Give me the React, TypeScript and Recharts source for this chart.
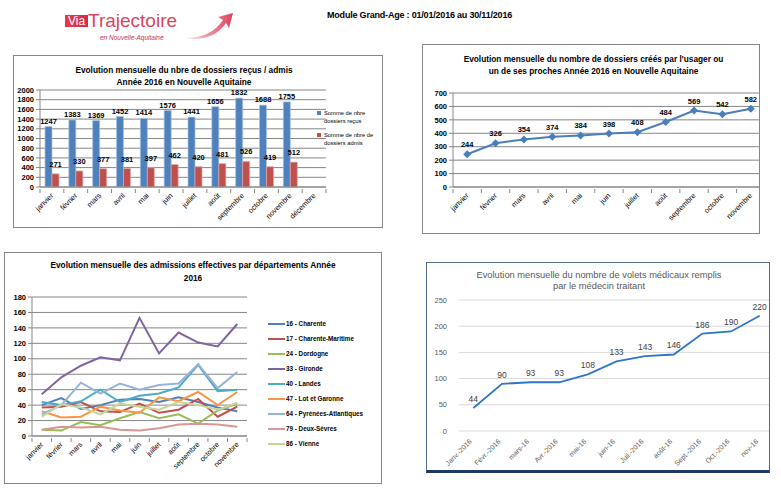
import React from "react";
import {
  BarChart,
  Bar,
  LineChart,
  Line,
  XAxis,
  YAxis,
  CartesianGrid,
  LabelList,
} from "recharts";

const FONT = "'Liberation Sans', Arial, sans-serif";

// --- données ---
const MOIS = [
  "janvier", "février", "mars", "avril", "mai", "juin",
  "juillet", "août", "septembre", "octobre", "novembre", "décembre",
];
const DOSSIERS_RECUS = [1247, 1383, 1369, 1452, 1414, 1576, 1441, 1656, 1832, 1688, 1755];
const DOSSIERS_ADMIS = [271, 330, 377, 381, 397, 462, 420, 481, 526, 419, 512];
const TICKS_RECUS = [0, 200, 400, 600, 800, 1000, 1200, 1400, 1600, 1800, 2000];

const DOSSIERS_USAGER = [244, 326, 354, 374, 384, 398, 408, 484, 569, 542, 582];
const TICKS_USAGER = [0, 100, 200, 300, 400, 500, 600, 700];

const DEPARTEMENTS = [
  "16 - Charente",
  "17 - Charente-Maritime",
  "24 - Dordogne",
  "33 - Gironde",
  "40 - Landes",
  "47 - Lot et Garonne",
  "64 - Pyrénées-Atlantiques",
  "79 - Deux-Sèvres",
  "86 - Vienne",
];
const COULEURS_DEPT = [
  "#4F81BD", "#C0504D", "#9BBB59", "#8064A2", "#4BACC6",
  "#F79646", "#95B3D7", "#D99694", "#C3D69B",
];
const ADM_16 = [40, 49, 35, 40, 47, 48, 44, 50, 44, 37, 32];
const ADM_17 = [37, 38, 44, 32, 31, 42, 30, 34, 48, 25, 38];
const ADM_24 = [8, 7, 18, 14, 23, 31, 23, 28, 16, 33, 42];
const ADM_33 = [54, 76, 91, 102, 98, 153, 107, 134, 121, 116, 145];
const ADM_40 = [44, 40, 45, 60, 44, 52, 55, 63, 92, 58, 60];
const ADM_47 = [32, 24, 25, 38, 33, 30, 50, 45, 57, 40, 57];
const ADM_64 = [28, 40, 69, 55, 68, 60, 66, 68, 93, 62, 83];
const ADM_79 = [8, 12, 11, 12, 8, 7, 10, 15, 16, 15, 12];
const ADM_86 = [25, 41, 37, 28, 42, 38, 34, 44, 40, 34, 43];
const SERIES_DEPT = [ADM_16, ADM_17, ADM_24, ADM_33, ADM_40, ADM_47, ADM_64, ADM_79, ADM_86];
const TICKS_DEPT = [0, 20, 40, 60, 80, 100, 120, 140, 160, 180];

const MOIS_VOLETS = [
  "Janv.-2016", "Févr.-2016", "mars-16", "Avr.-2016", "mai-16", "juin-16",
  "Juil.-2016", "août-16", "Sept.-2016", "Oct.-2016", "nov-16",
];
const VOLETS = [44, 90, 93, 93, 108, 133, 143, 146, 186, 190, 220];
const TICKS_VOLETS = [0, 50, 100, 150, 200, 250];

// tables pour recharts
const recusData = MOIS.map((m, i) => ({
  mois: m,
  recus: DOSSIERS_RECUS[i] ?? null,
  admis: DOSSIERS_ADMIS[i] ?? null,
}));
const usagerData = DOSSIERS_USAGER.map((v, i) => ({ mois: MOIS[i], v }));
const deptData = MOIS.slice(0, 11).map((m, i) => {
  const row: Record<string, any> = { mois: m };
  SERIES_DEPT.forEach((s, k) => (row["d" + k] = s[i]));
  return row;
});
const voletsData = MOIS_VOLETS.map((m, i) => ({ mois: m, v: VOLETS[i] }));

// largeur d'une catégorie (zone de tracé / nb de mois)
const STEP_RECUS = 286 / 12;
const STEP_USAGER = 312.7 / 11;
const STEP_DEPT = 214.5 / 11;
const STEP_VOLETS = 315.7 / 11;

// tick de catégorie incliné, avec graduations entre les catégories (style Excel)
function RotTick(props: any) {
  const { x, y, payload, index, visibleTicksCount, step, marks = true, fontSize, fill, dx = 2, dy = 7 } = props;
  const tx = x + dx;
  const ty = y + dy;
  return (
    <g>
      {marks ? (
        <line x1={x - step / 2} x2={x - step / 2} y1={y} y2={y + 4} stroke="#868686" />
      ) : null}
      {marks && index === visibleTicksCount - 1 ? (
        <line x1={x + step / 2} x2={x + step / 2} y1={y} y2={y + 4} stroke="#868686" />
      ) : null}
      <text
        x={tx}
        y={ty}
        transform={`rotate(-45 ${tx} ${ty})`}
        textAnchor="end"
        fontSize={fontSize}
        fill={fill}
        fontFamily={FONT}
      >
        {payload.value}
      </text>
    </g>
  );
}

function Diamond(props: any) {
  const { cx, cy } = props;
  if (cx == null || cy == null) return null;
  const r = 4;
  return (
    <polygon
      points={`${cx},${cy - r} ${cx + r},${cy} ${cx},${cy + r} ${cx - r},${cy}`}
      fill="#4A7EBB"
    />
  );
}

const boldTick = { fontSize: 7.5, fontWeight: "bold", fill: "#000", fontFamily: FONT };

function Titre({ lines, top, width, style }: any) {
  return (
    <div
      style={{
        position: "absolute",
        left: 0,
        top,
        width,
        textAlign: "center",
        fontSize: 8.3,
        fontWeight: "bold",
        lineHeight: "11.5px",
        ...style,
      }}
    >
      {lines.map((l: string) => (
        <div key={l}>{l}</div>
      ))}
    </div>
  );
}

function ChartRecus() {
  return (
    <div
      style={{
        position: "absolute",
        left: 13,
        top: 55,
        width: 370,
        height: 173,
        border: "1px solid #868686",
        boxSizing: "border-box",
      }}
    >
      <Titre
        lines={["Evolution mensuelle du nbre de dossiers reçus / admis", "Année 2016 en Nouvelle Aquitaine"]}
        top={9}
        width={340}
      />
      <BarChart
        width={368}
        height={171}
        data={recusData}
        margin={{ top: 34, right: 56, bottom: 0, left: 0 }}
        barGap={0}
        barSize={7}
      >
        <CartesianGrid vertical={false} stroke="#868686" />
        <XAxis
          dataKey="mois"
          height={40}
          interval={0}
          tickLine={false}
          tickSize={0}
          axisLine={{ stroke: "#868686" }}
          tick={(p: any) => <RotTick {...p} step={STEP_RECUS} fontSize={7.4} fill="#000" />}
        />
        <YAxis
          width={26}
          domain={[0, 2000]}
          ticks={TICKS_RECUS}
          interval={0}
          tick={boldTick}
          tickSize={4}
          tickMargin={2}
          axisLine={{ stroke: "#868686" }}
          tickLine={{ stroke: "#868686" }}
        />
        <Bar dataKey="recus" fill="#4F81BD" stroke="#A9C2E2" strokeWidth={0.7} isAnimationActive={false}>
          <LabelList dataKey="recus" position="top" offset={3} fontSize={7.5} fontWeight="bold" fill="#000" fontFamily={FONT} />
        </Bar>
        <Bar dataKey="admis" fill="#C0504D" stroke="#E0A8A6" strokeWidth={0.7} isAnimationActive={false}>
          <LabelList dataKey="admis" position="top" offset={7} fontSize={7.5} fontWeight="bold" fill="#000" fontFamily={FONT} />
        </Bar>
      </BarChart>
      <div style={{ position: "absolute", left: 303, top: 54, fontSize: 5.8, lineHeight: "7.5px", color: "#000" }}>
        {[
          { c: "#4F81BD", t: ["Somme de nbre", "dossiers reçus"] },
          { c: "#C0504D", t: ["Somme de nbre de", "dossiers admis"] },
        ].map((e, i) => (
          <div key={i} style={{ position: "relative", paddingLeft: 7, marginBottom: 7 }}>
            <span style={{ position: "absolute", left: 0, top: 1, width: 4, height: 4, background: e.c }} />
            <div>{e.t[0]}</div>
            <div>{e.t[1]}</div>
          </div>
        ))}
      </div>
    </div>
  );
}

function ChartUsager() {
  return (
    <div
      style={{
        position: "absolute",
        left: 422,
        top: 44,
        width: 338,
        height: 190,
        border: "1px solid #868686",
        boxSizing: "border-box",
        overflow: "hidden",
      }}
    >
      <Titre
        lines={[
          "Evolution mensuelle du nombre de dossiers créés par l'usager ou",
          "un de ses proches Année 2016 en Nouvelle Aquitaine",
        ]}
        top={9}
        width={341}
      />
      <LineChart
        width={346}
        height={188}
        data={usagerData}
        margin={{ top: 48, right: 4, bottom: 0, left: 0 }}
      >
        <CartesianGrid vertical={false} stroke="#868686" />
        <XAxis
          dataKey="mois"
          height={46}
          interval={0}
          tickLine={false}
          tickSize={0}
          padding={{ left: STEP_USAGER / 2, right: STEP_USAGER / 2 }}
          axisLine={{ stroke: "#868686" }}
          tick={(p: any) => <RotTick {...p} step={STEP_USAGER} fontSize={7.4} fill="#000" />}
        />
        <YAxis
          width={30}
          domain={[0, 700]}
          ticks={TICKS_USAGER}
          interval={0}
          tick={boldTick}
          tickSize={4}
          tickMargin={2}
          axisLine={{ stroke: "#868686" }}
          tickLine={{ stroke: "#868686" }}
        />
        <Line
          dataKey="v"
          stroke="#4A7EBB"
          strokeWidth={2}
          dot={<Diamond />}
          activeDot={false}
          isAnimationActive={false}
        >
          <LabelList dataKey="v" position="top" offset={7} fontSize={7.5} fontWeight="bold" fill="#000" fontFamily={FONT} />
        </Line>
      </LineChart>
    </div>
  );
}

function ChartDepartements() {
  return (
    <div
      style={{
        position: "absolute",
        left: 4,
        top: 252,
        width: 378,
        height: 232,
        border: "1px solid #868686",
        boxSizing: "border-box",
      }}
    >
      <Titre
        lines={["Evolution mensuelle des admissions effectives par départements Année", "2016"]}
        top={6}
        width={376}
        style={{ lineHeight: "12.5px" }}
      />
      <LineChart
        width={376}
        height={230}
        data={deptData}
        margin={{ top: 44, right: 134, bottom: 0, left: 0 }}
      >
        <CartesianGrid vertical={false} stroke="#868686" />
        <XAxis
          dataKey="mois"
          height={47}
          interval={0}
          tickLine={false}
          tickSize={0}
          padding={{ left: STEP_DEPT / 2, right: STEP_DEPT / 2 }}
          axisLine={{ stroke: "#868686" }}
          tick={(p: any) => <RotTick {...p} step={STEP_DEPT} fontSize={7.2} fill="#000" />}
        />
        <YAxis
          width={27}
          domain={[0, 180]}
          ticks={TICKS_DEPT}
          interval={0}
          tick={boldTick}
          tickSize={4}
          tickMargin={2}
          axisLine={{ stroke: "#868686" }}
          tickLine={{ stroke: "#868686" }}
        />
        {DEPARTEMENTS.map((d, k) => (
          <Line
            key={d}
            name={d}
            dataKey={"d" + k}
            stroke={COULEURS_DEPT[k]}
            strokeWidth={2}
            dot={false}
            activeDot={false}
            isAnimationActive={false}
          />
        ))}
      </LineChart>
      <div style={{ position: "absolute", left: 263, top: 63 }}>
        {DEPARTEMENTS.map((d, k) => (
          <div key={d} style={{ height: 15, display: "flex", alignItems: "center", fontSize: 6.3, fontWeight: "bold" }}>
            <span style={{ width: 17, height: 2, background: COULEURS_DEPT[k], marginRight: 1 }} />
            <span>{d}</span>
          </div>
        ))}
      </div>
    </div>
  );
}

function ChartVolets() {
  return (
    <div
      style={{
        position: "absolute",
        left: 426,
        top: 262,
        width: 344,
        height: 211,
        borderLeft: "1px solid #536A8C",
        borderTop: "1px solid #536A8C",
        borderRight: "1px solid #536A8C",
        borderBottom: "3px solid #1F3864",
        boxSizing: "border-box",
        overflow: "hidden",
      }}
    >
      <div
        style={{
          position: "absolute",
          left: 0,
          top: 7,
          width: 344,
          textAlign: "center",
          fontSize: 9.3,
          lineHeight: "10.5px",
          color: "#595959",
        }}
      >
        <div>Evolution mensuelle du nombre de volets médicaux remplis</div>
        <div>par le médecin traitant</div>
      </div>
      <LineChart
        width={350}
        height={207}
        data={voletsData}
        margin={{ top: 37, right: 3, bottom: 0, left: 0 }}
      >
        <CartesianGrid vertical={false} stroke="#D9D9D9" />
        <XAxis
          dataKey="mois"
          height={39}
          interval={0}
          tickLine={false}
          tickSize={0}
          axisLine={false}
          padding={{ left: STEP_VOLETS / 2, right: STEP_VOLETS / 2 }}
          tick={(p: any) => (
            <RotTick {...p} step={STEP_VOLETS} marks={false} fontSize={7} fill="#595959" dx={-1} dy={9} />
          )}
        />
        <YAxis
          width={32}
          domain={[0, 250]}
          ticks={TICKS_VOLETS}
          interval={0}
          tick={{ fontSize: 7.5, fill: "#595959", fontFamily: FONT }}
          tickLine={false}
          axisLine={false}
          tickMargin={6}
        />
        <Line
          dataKey="v"
          stroke="#2E75C6"
          strokeWidth={1.8}
          dot={false}
          activeDot={false}
          isAnimationActive={false}
        >
          <LabelList dataKey="v" position="top" offset={6} fontSize={8.5} fill="#404040" fontFamily={FONT} />
        </Line>
      </LineChart>
    </div>
  );
}

function Logo() {
  return (
    <div style={{ position: "absolute", left: 65, top: 8, width: 170, height: 40 }}>
      <div
        style={{
          position: "absolute",
          left: 0,
          top: 7,
          width: 23,
          height: 12,
          background: "linear-gradient(90deg, #E23A55, #D62C48)",
          color: "#fff",
          fontSize: 12,
          lineHeight: "12px",
          textAlign: "center",
        }}
      >
        Via
      </div>
      <div
        style={{
          position: "absolute",
          left: 23,
          top: 2,
          fontSize: 19,
          lineHeight: "22px",
          color: "#DA4660",
        }}
      >
        Trajectoire
      </div>
      <div
        style={{
          position: "absolute",
          left: 35,
          top: 26,
          fontSize: 6.5,
          fontStyle: "italic",
          color: "#C8304A",
        }}
      >
        en Nouvelle-Aquitaine
      </div>
      <svg style={{ position: "absolute", left: 118, top: 0 }} width={52} height={36}>
        <defs>
          <linearGradient id="fl" x1="0" y1="0" x2="1" y2="0">
            <stop offset="0" stopColor="#FBE1E6" />
            <stop offset="1" stopColor="#E0405A" />
          </linearGradient>
        </defs>
        <path d="M2 30 Q 28 30 40 12 L 35 9 L 50 5 L 46 20 L 43 15 Q 30 34 2 30 Z" fill="url(#fl)" />
      </svg>
    </div>
  );
}

export default function App() {
  return (
    <div
      style={{
        position: "absolute",
        left: 0,
        top: 0,
        width: 781,
        height: 489,
        background: "#fff",
        overflow: "hidden",
        fontFamily: FONT,
      }}
    >
      <Logo />
      <div style={{ position: "absolute", left: 327, top: 10, fontSize: 9, fontWeight: "bold", letterSpacing: -0.2 }}>
        Module Grand-Age : 01/01/2016 au 30/11/2016
      </div>
      <ChartRecus />
      <ChartUsager />
      <ChartDepartements />
      <ChartVolets />
    </div>
  );
}
